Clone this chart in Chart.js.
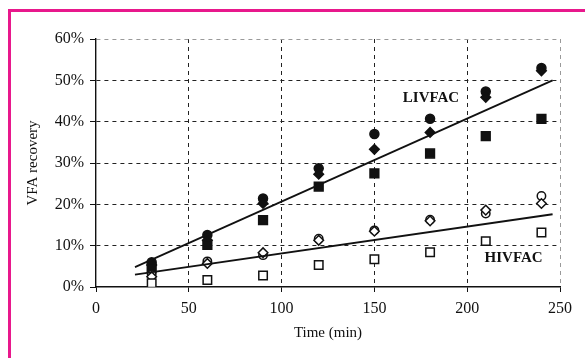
<!DOCTYPE html>
<html>
<head>
<meta charset="utf-8">
<title>VFA recovery</title>
<script src="https://cdn.jsdelivr.net/npm/chart.js@4.4.0/dist/chart.umd.min.js"></script>
<style>
    html, body { margin: 0; padding: 0; background: #fff; }
    #wrap { position: relative; width: 585px; height: 358px; overflow: hidden; }
    #frame {
        position: absolute; left: 8px; top: 9px; right: -10px; bottom: -10px;
        border-left: 3px solid #e8188c; border-top: 3px solid #e8188c;
    }
    canvas { position: absolute; left: 0; top: 0; }
</style>
</head>
<body>
<div id="wrap">
    <canvas id="vfaChart" width="585" height="358"></canvas>
    <div id="frame"></div>
</div>
<script>
// sampling times (min)
const times = [30, 60, 90, 120, 150, 180, 210, 240];

// LIVFAC runs (filled markers), % recovery
const livCircle = [6.0, 12.6, 21.4, 28.7, 37.0, 40.7, 47.3, 53.0];
const livDiamond = [5.3, 11.3, 20.2, 27.3, 33.3, 37.4, 45.9, 52.3];
const livSquare = [4.5, 10.2, 16.2, 24.3, 27.5, 32.3, 36.5, 40.7];

// HIVFAC runs (open markers), % recovery
const hivCircle = [3.0, 6.2, 7.7, 11.7, 13.7, 16.3, 17.8, 22.0];
const hivDiamond = [2.5, 5.7, 8.3, 11.3, 13.5, 16.0, 18.6, 20.2];
const hivSquare = [0.9, 1.7, 2.8, 5.3, 6.7, 8.4, 11.1, 13.2];

// trend lines
const trendX = [21, 246];
const livTrend = [4.8, 50.0];
const hivTrend = [3.0, 17.6];

const xTicks = [0, 50, 100, 150, 200, 250];
const yTicks = [0, 10, 20, 30, 40, 50, 60];

const serif = "'Liberation Serif', 'Times New Roman', serif";

function pts(xs, ys) {
    return xs.map((x, i) => ({ x: x, y: ys[i] }));
}

function markers(label, ys, style, radius, filled) {
    return {
        type: "scatter",
        label: label,
        data: pts(times, ys),
        pointStyle: style,
        pointRadius: radius,
        pointHoverRadius: radius,
        pointBackgroundColor: filled ? "#111" : "#fff",
        pointBorderColor: "#111",
        pointBorderWidth: 1.5,
        showLine: false
    };
}

function trend(label, ys) {
    return {
        type: "line",
        label: label,
        data: pts(trendX, ys),
        borderColor: "#111",
        borderWidth: 1.8,
        pointRadius: 0,
        fill: false,
        tension: 0
    };
}

// LIVFAC / HIVFAC text labels
const curveLabels = {
    id: "curveLabels",
    afterDatasetsDraw(chart) {
        const { ctx, scales } = chart;
        ctx.save();
        ctx.font = "bold 15px " + serif;
        ctx.fillStyle = "#111";
        ctx.textAlign = "center";
        ctx.textBaseline = "middle";
        ctx.fillText("LIVFAC", scales.x.getPixelForValue(180.5), scales.y.getPixelForValue(45.7));
        ctx.fillText("HIVFAC", scales.x.getPixelForValue(225), scales.y.getPixelForValue(7.0));
        ctx.restore();
    }
};

new Chart(document.getElementById("vfaChart"), {
    type: "scatter",
    data: {
        datasets: [
            trend("LIVFAC trend", livTrend),
            trend("HIVFAC trend", hivTrend),
            markers("HIVFAC square", hivSquare, "rect", 6, false),
            markers("HIVFAC diamond", hivDiamond, "rectRot", 4.8, false),
            markers("HIVFAC circle", hivCircle, "circle", 4.2, false),
            markers("LIVFAC square", livSquare, "rect", 6.2, true),
            markers("LIVFAC diamond", livDiamond, "rectRot", 4.8, true),
            markers("LIVFAC circle", livCircle, "circle", 4.5, true)
        ]
    },
    options: {
        responsive: false,
        animation: false,
        devicePixelRatio: 1,
        layout: { padding: { left: 0, top: 39, right: 25, bottom: 0 } },
        plugins: {
            legend: { display: false },
            tooltip: { enabled: false }
        },
        scales: {
            x: {
                type: "linear",
                min: 0,
                max: 250,
                afterFit: scale => { scale.height = 71; },
                afterBuildTicks: scale => { scale.ticks = xTicks.map(v => ({ value: v })); },
                ticks: {
                    color: "#111",
                    padding: 7,
                    font: { family: serif, size: 16 }
                },
                grid: {
                    color: ctx => ctx.tick && ctx.tick.value === 0 ? "rgba(0,0,0,0)" :
                        (ctx.tick && ctx.tick.value === 250 ? "#9a9a9a" : "#222"),
                    lineWidth: 1,
                    tickColor: "#111",
                    tickLength: 5
                },
                border: { color: "#111", width: 1.4, dash: [4, 4] },
                title: {
                    display: true,
                    text: "Time (min)",
                    color: "#111",
                    font: { family: serif, size: 15 },
                    padding: { top: 0, bottom: 16 }
                }
            },
            y: {
                min: 0,
                max: 60,
                afterFit: scale => { scale.width = 96; },
                afterBuildTicks: scale => { scale.ticks = yTicks.map(v => ({ value: v })); },
                ticks: {
                    color: "#111",
                    padding: 6,
                    font: { family: serif, size: 16 },
                    callback: v => v + "%"
                },
                grid: {
                    color: ctx => ctx.tick && ctx.tick.value === 0 ? "rgba(0,0,0,0)" :
                        (ctx.tick && ctx.tick.value === 60 ? "#9a9a9a" : "#222"),
                    lineWidth: 1,
                    tickColor: "#111",
                    tickLength: 6
                },
                border: { color: "#111", width: 1.4, dash: [4, 4] },
                title: {
                    display: true,
                    text: "VFA recovery",
                    color: "#111",
                    font: { family: serif, size: 15 },
                    padding: { top: 24, bottom: 0 }
                }
            }
        }
    },
    plugins: [curveLabels]
});
</script>
</body>
</html>
